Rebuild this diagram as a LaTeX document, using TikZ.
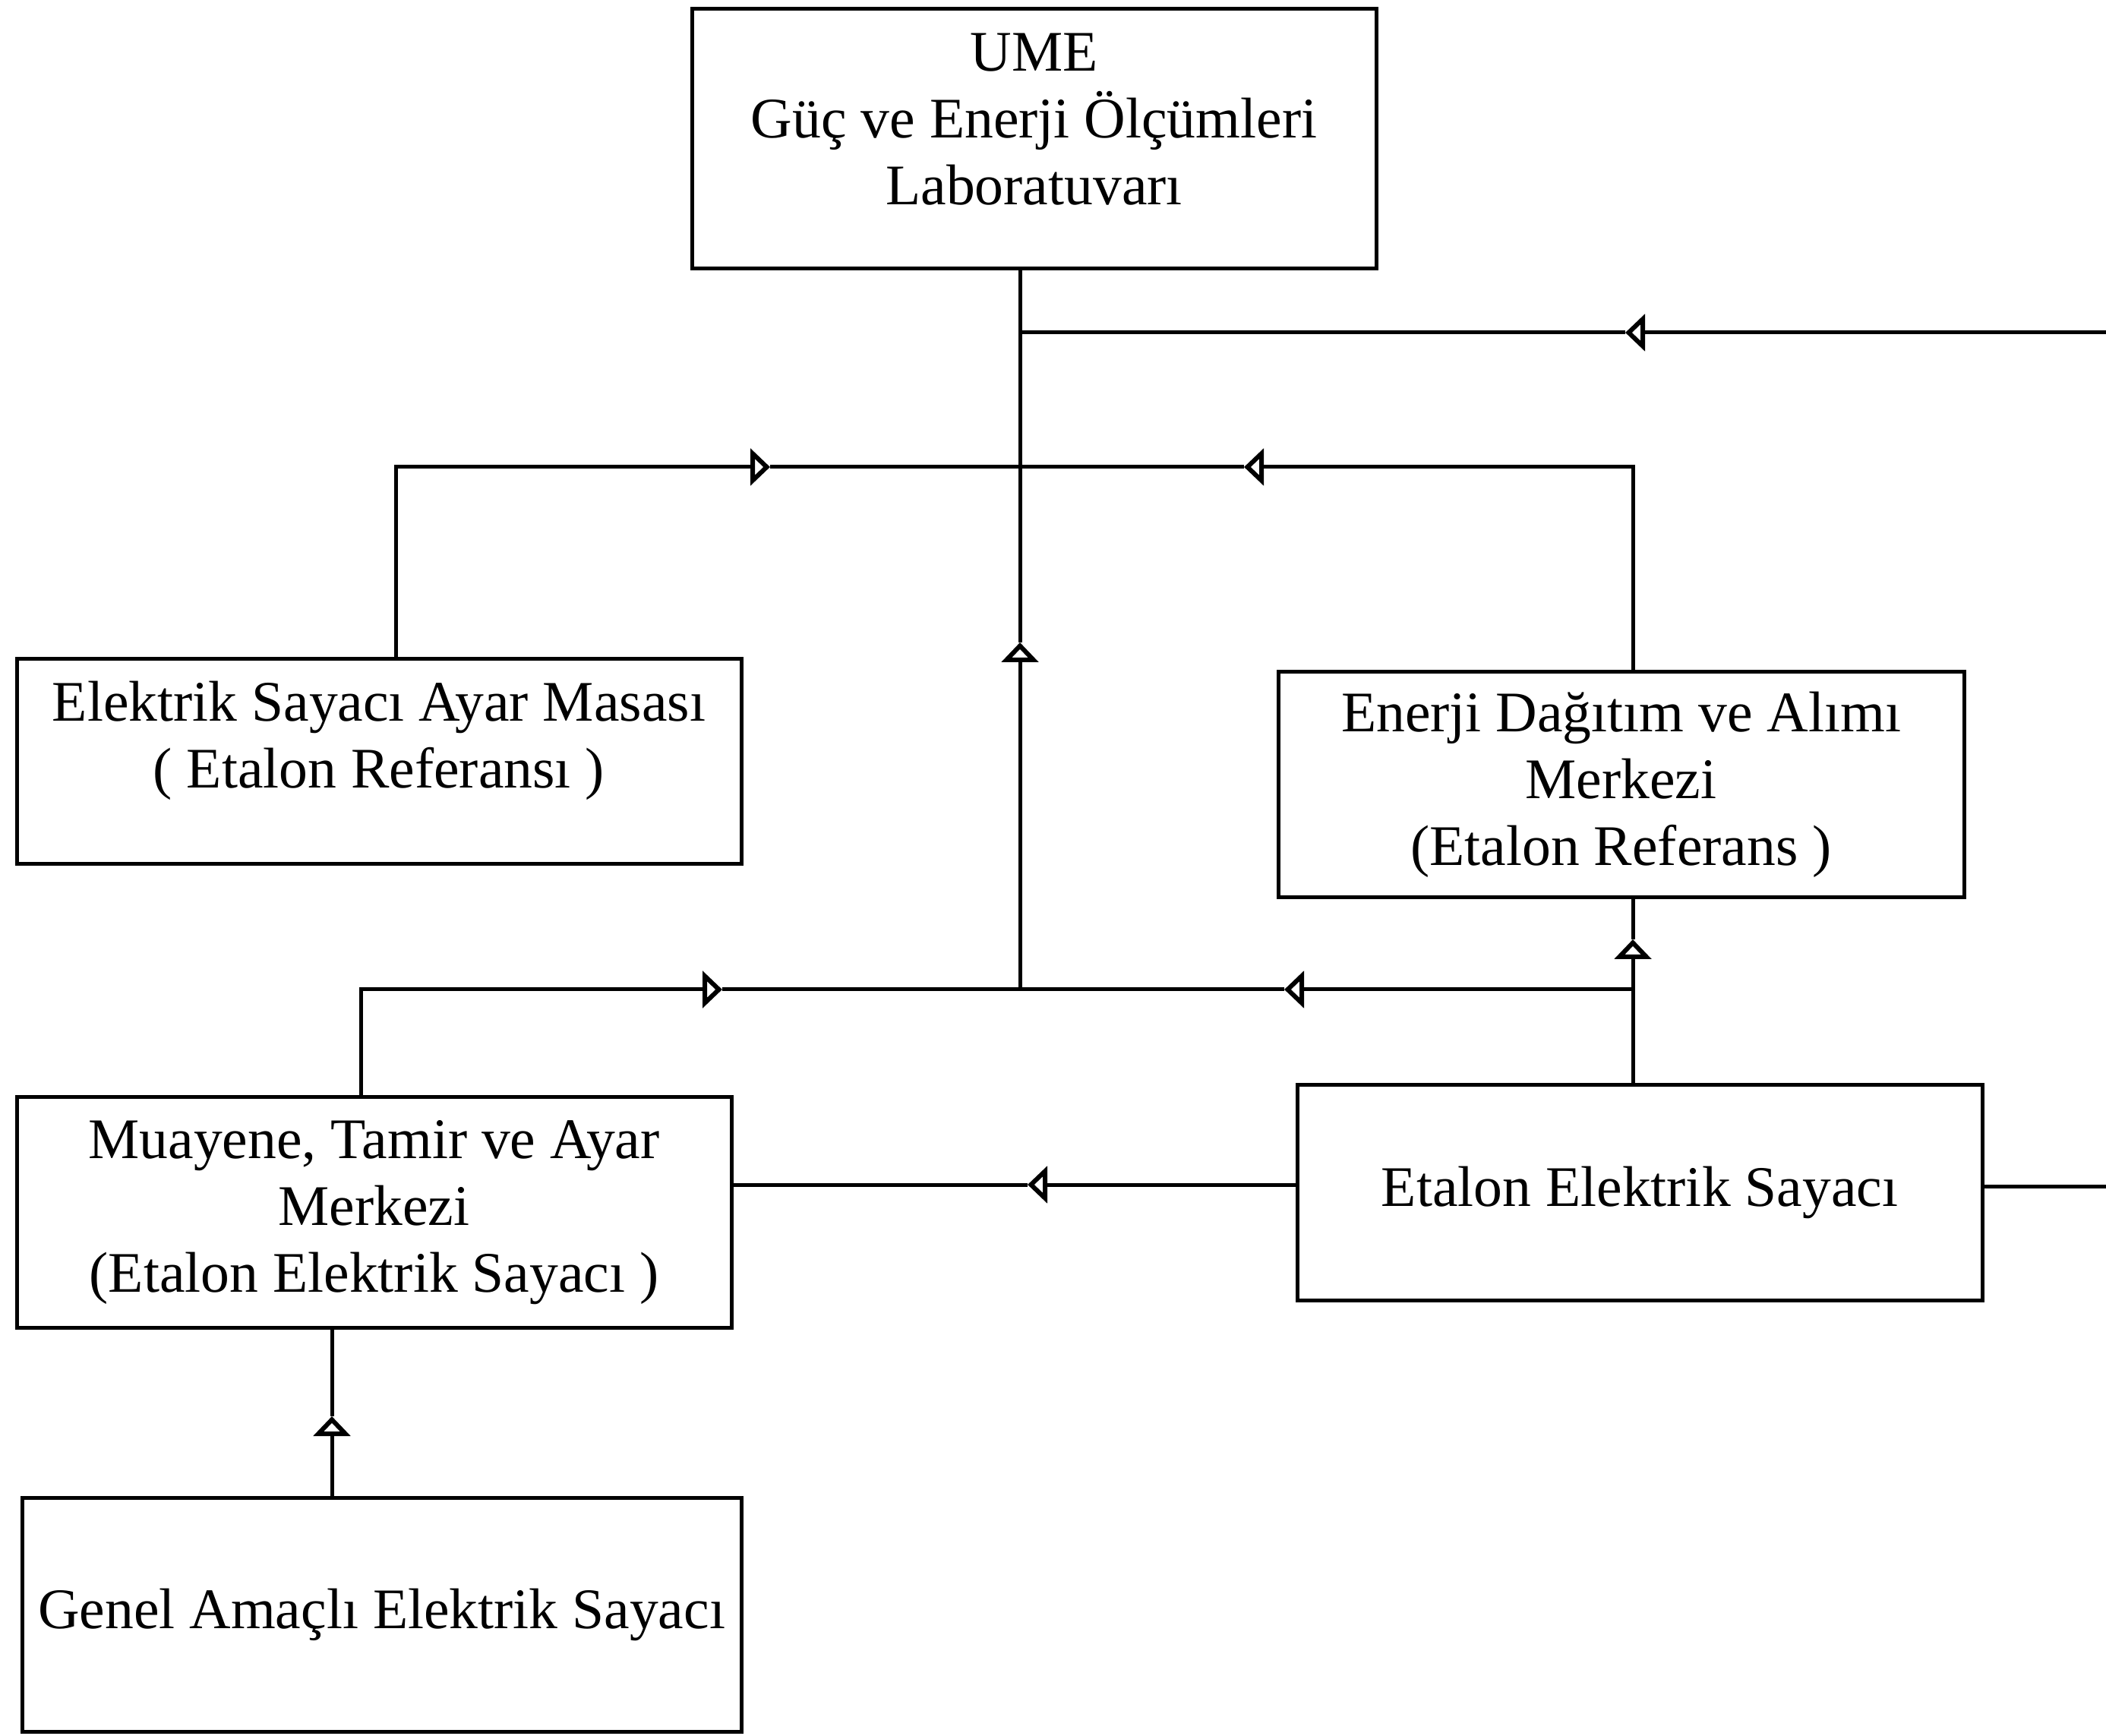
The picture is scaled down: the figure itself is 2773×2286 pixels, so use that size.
\documentclass[tikz,border=0pt]{standalone}
\usepackage{fontspec}
\setmainfont{Liberation Serif}
\usetikzlibrary{arrows.meta}
\begin{document}
\begin{tikzpicture}[x=0.25pt,y=-0.25pt,
  line width=1.25pt,
  boxnode/.style={draw, rectangle, inner sep=0pt, align=center,
    font=\fontsize{18.9pt}{22pt}\selectfont},
  arr/.style={-{Triangle[open,length=6.5pt,width=12pt,line width=1.5pt]}}]
\fill[white] (0,0) rectangle (2773,2286);
\useasboundingbox (0,0) rectangle (2773,2286);

% boxes
\node[boxnode, minimum width=225.25pt, minimum height=85.5pt] (ume) at (1361.5,183)
  {UME\\Güç ve Enerji Ölçümleri\\Laboratuvarı\\[-9pt]\mbox{}};
\node[boxnode, minimum width=238.5pt, minimum height=67.5pt] (ayar) at (499,1003)
  {Elektrik Sayacı Ayar Masası\\( Etalon Referansı )\\[-4pt]\mbox{}};
\node[boxnode, minimum width=225.75pt, minimum height=74.25pt] (enerji) at (2134.5,1033.5)
  {Enerji Dağıtım ve Alımı\\Merkezi\\(Etalon Referans )};
\node[boxnode, minimum width=235.25pt, minimum height=75.75pt] (muayene) at (492.5,1596.5)
  {Muayene, Tamir ve Ayar\\Merkezi\\(Etalon Elektrik Sayacı )};
\node[boxnode, minimum width=225.5pt, minimum height=70.75pt] (etalon) at (2159,1570.5)
  {Etalon Elektrik Sayacı};
\node[boxnode, minimum width=236.75pt, minimum height=77pt] (genel) at (502.5,2126)
  {Genel Amaçlı Elektrik Sayacı};

% junctions and arrow positions
\coordinate (jtop) at (1343,438);
\coordinate (eastA) at (2773,438);
\coordinate (arrA) at (2140,438);
\coordinate (jmid) at (1343,615);
\coordinate (lmid) at (521,615);
\coordinate (rmid) at (2150,615);
\coordinate (arrB) at (1014,615);
\coordinate (arrC) at (1638,615);
\coordinate (arrD) at (1343,846);
\coordinate (jbus) at (1343,1303);
\coordinate (lbus) at (475,1303);
\coordinate (rbus) at (2150,1303);
\coordinate (arrE) at (951,1303);
\coordinate (arrF) at (1691,1303);
\coordinate (arrG) at (2150,1237);
\coordinate (arrH) at (1353,1560);
\coordinate (eastB) at (2773,1562);
\coordinate (arrI) at (437,1865);

% trunk
\draw[arr] (jbus) -- (arrD);
\draw (arrD) -- (ume.south -| jbus);

% top line from the right
\draw[arr] (eastA) -- (arrA);
\draw (arrA) -- (jtop);

% middle line
\draw[arr] (ayar.north -| lmid) -- (lmid) -- (arrB);
\draw (arrB) -- (jmid);
\draw[arr] (enerji.north -| rmid) -- (rmid) -- (arrC);
\draw (arrC) -- (jmid);

% bus
\draw[arr] (muayene.north -| lbus) -- (lbus) -- (arrE);
\draw (arrE) -- (jbus);
\draw[arr] (rbus) -- (arrF);
\draw (arrF) -- (jbus);

% right vertical
\draw (etalon.north -| rbus) -- (rbus);
\draw[arr] (rbus) -- (arrG);
\draw (arrG) -- (enerji.south -| rbus);

% etalon to muayene
\draw[arr] (etalon.west |- arrH) -- (arrH);
\draw (arrH) -- (muayene.east |- arrH);

% etalon to right edge
\draw (etalon.east |- eastB) -- (eastB);

% genel to muayene
\draw[arr] (genel.north -| arrI) -- (arrI);
\draw (arrI) -- (muayene.south -| arrI);
\end{tikzpicture}
\end{document}
